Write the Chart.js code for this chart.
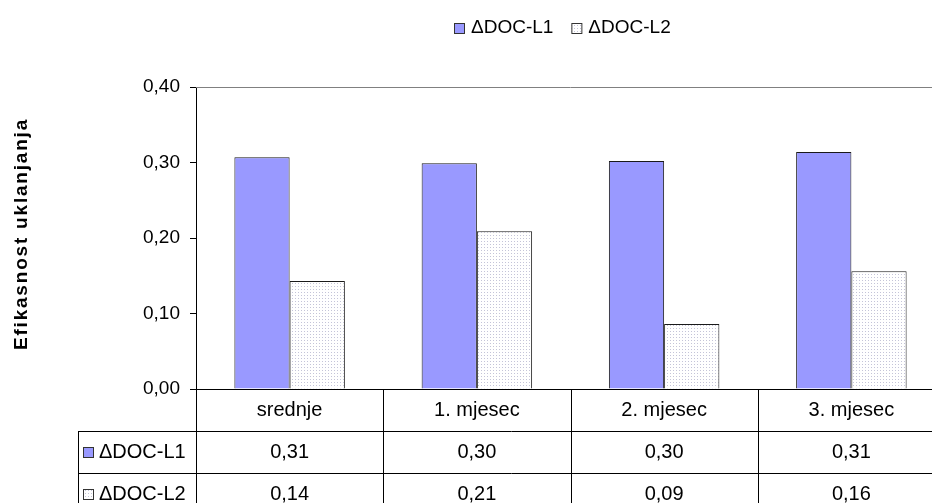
<!DOCTYPE html>
<html><head><meta charset="utf-8">
<script src="https://cdn.jsdelivr.net/npm/chart.js@4/dist/chart.umd.min.js"></script>
<style>
html,body{margin:0;padding:0;overflow:hidden;background:#fff;width:932px;height:503px}
#wrap{position:relative;width:950px;height:503px}
</style>
</head><body><div id="wrap"><canvas id="c" width="950" height="503"></canvas></div>
<script>
const categories = ['srednje', '1. mjesec', '2. mjesec', '3. mjesec'];
const seriesNames = ['ΔDOC-L1', 'ΔDOC-L2'];
const valuesL1 = [0.307, 0.299, 0.302, 0.314];
const valuesL2 = [0.143, 0.209, 0.086, 0.156];
const yMin = 0, yMax = 0.4, yStep = 0.1;
const yTitle = 'Efikasnost uklanjanja';

const FONT = "'Liberation Sans', Arial, sans-serif";
const fmt = v => v.toFixed(2).replace('.', ',');

const canvas = document.getElementById('c');
const ctx = canvas.getContext('2d');

function makePattern() {
  const p = document.createElement('canvas');
  p.width = 3; p.height = 3;
  const g = p.getContext('2d');
  g.fillStyle = '#ffffff'; g.fillRect(0, 0, 3, 3);
  g.fillStyle = '#c4c4d8'; g.fillRect(1, 1, 1, 1);
  return ctx.createPattern(p, 'repeat');
}
const pattern = makePattern();
const fills = ['#9999ff', pattern];

const tablePlugin = {
  id: 'tablePlugin',
  afterDraw(chart) {
    const c = chart.ctx;
    const a = chart.chartArea;
    const xs = chart.scales.x;
    const n = categories.length;
    const cw = (a.right - a.left) / n;
    c.save();
    c.strokeStyle = '#808080';
    c.lineWidth = 1;
    c.beginPath();
    c.moveTo(a.left, Math.round(a.top) + 0.5);
    c.lineTo(a.right, Math.round(a.top) + 0.5);
    c.moveTo(Math.round(a.right) + 0.5, a.top);
    c.lineTo(Math.round(a.right) + 0.5, a.bottom);
    c.stroke();

    const rowH = 42;
    const y0 = Math.round(a.bottom);
    const tableLeft = 78;
    c.strokeStyle = '#000';
    c.beginPath();
    for (let r = 1; r <= 2; r++) {
      const y = y0 + r * rowH + 0.5;
      c.moveTo(tableLeft, y); c.lineTo(a.right, y);
    }
    c.moveTo(tableLeft + 0.5, y0 + rowH); c.lineTo(tableLeft + 0.5, 503);
    for (let i = 0; i <= n; i++) {
      const x = Math.round(a.left + i * cw) + 0.5;
      c.moveTo(x, y0); c.lineTo(x, 503);
    }
    c.stroke();

    c.fillStyle = '#000';
    c.font = '20px ' + FONT;
    c.textAlign = 'center';
    c.textBaseline = 'middle';
    categories.forEach((cat, i) => {
      const cx = xs.getPixelForValue(i);
      c.fillText(cat, cx, y0 + rowH / 2);
      c.fillText(fmt(valuesL1[i]), cx, y0 + rowH * 1.5);
      c.fillText(fmt(valuesL2[i]), cx, y0 + rowH * 2.5);
    });
    seriesNames.forEach((name, r) => {
      const cy = y0 + rowH * (1.5 + r);
      c.fillStyle = fills[r];
      c.fillRect(83, cy - 5, 11, 11);
      c.strokeStyle = '#333';
      c.strokeRect(83.5, cy - 4.5, 10, 10);
      c.fillStyle = '#000';
      c.textAlign = 'left';
      c.font = '20px ' + FONT;
      c.fillText(name, 99, cy);
    });

    c.font = '19px ' + FONT;
    c.textAlign = 'left';
    let lx = 454;
    const ly = 28;
    seriesNames.forEach((name, r) => {
      c.fillStyle = fills[r];
      c.fillRect(lx, ly - 5, 11, 11);
      c.strokeStyle = '#333';
      c.strokeRect(lx + 0.5, ly - 4.5, 10, 10);
      c.fillStyle = '#000';
      c.fillText(name, lx + 17, ly);
      lx += 17 + c.measureText(name).width + 18;
    });

    c.save();
    c.translate(22, 234);
    c.rotate(-Math.PI / 2);
    c.font = 'bold 19px ' + FONT;
    c.letterSpacing = '1.8px';
    c.textAlign = 'center';
    c.textBaseline = 'middle';
    c.fillStyle = '#000';
    c.fillText(yTitle, 0, 0);
    c.restore();

    c.restore();
  }
};

new Chart(ctx, {
  type: 'bar',
  data: {
    labels: categories,
    datasets: [
      { label: seriesNames[0], data: valuesL1, backgroundColor: fills[0], borderColor: '#1a1a1a', borderWidth: 1 },
      { label: seriesNames[1], data: valuesL2, backgroundColor: fills[1], borderColor: '#1a1a1a', borderWidth: 1 }
    ]
  },
  options: {
    responsive: false,
    animation: false,
    layout: { padding: { left: 0, top: 87, right: 5, bottom: 114 } },
    plugins: { legend: { display: false }, tooltip: { enabled: false } },
    datasets: { bar: { categoryPercentage: 0.59, barPercentage: 1.0 } },
    scales: {
      x: {
        grid: { display: false },
        ticks: { display: false },
        border: { display: true, color: '#000', width: 1 },
        afterFit(s) { s.height = 0; }
      },
      y: {
        min: yMin, max: yMax,
        ticks: { stepSize: yStep, padding: 10, color: '#000', font: { family: FONT, size: 19 }, callback: v => fmt(v) },
        grid: { display: true, drawOnChartArea: false, drawTicks: true, tickLength: 6, tickColor: '#000' },
        border: { display: true, color: '#000', width: 1 },
        afterFit(s) { s.width = 196; }
      }
    }
  },
  plugins: [tablePlugin]
});
</script>
</body></html>
